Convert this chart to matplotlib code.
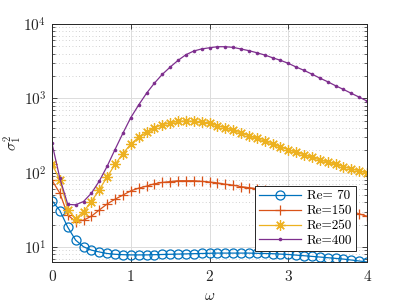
import numpy as np
import matplotlib
matplotlib.use("Agg")
import matplotlib.pyplot as plt
from matplotlib.ticker import FixedLocator, FuncFormatter, LogLocator, NullFormatter

plt.rcParams['mathtext.fontset'] = 'cm'
plt.rcParams['axes.unicode_minus'] = False

omega = [round(0.1 * i, 1) for i in range(41)]

re70 = [42, 31, 18.5, 12.4, 10.1, 9.1, 8.6, 8.2, 8.0, 7.9,
        7.85, 7.85, 7.85, 7.9, 7.95, 8.0, 8.05, 8.1, 8.15, 8.2,
        8.25, 8.3, 8.3, 8.3, 8.3, 8.3, 8.25, 8.2, 8.15, 8.05,
        7.95, 7.8, 7.65, 7.5, 7.35, 7.2, 7.05, 6.9, 6.7, 6.5, 6.3]
re150 = [79, 53, 27, 22, 23, 26, 31.5, 38, 44, 50,
         57, 62, 66, 71, 74, 76, 78, 78, 78, 76.5,
         75, 73, 70, 68, 65, 63, 61, 58, 55, 52,
         49, 46, 43.5, 41, 38.5, 36, 34, 32, 30.5, 28, 26]
re250 = [131, 80, 32, 24, 30, 41, 59, 88, 129, 180,
         243, 299, 349, 403, 442, 470, 490, 495, 490, 481,
         461, 429, 403, 371, 342, 314, 290, 265, 243, 222,
         204, 188, 174, 161, 149, 139, 130, 121, 113, 106, 99]
re400 = [248, 84, 37.5, 37, 41, 53, 77, 122, 205, 339,
         550, 813, 1170, 1600, 2100, 2630, 3240, 3860, 4330, 4620,
         4790, 4950, 4950, 4850, 4610, 4380, 4110, 3830, 3520, 3250,
         2960, 2640, 2380, 2120, 1875, 1675, 1480, 1320, 1170, 1040, 920]

labels = ["Re= 70", "Re=150", "Re=250", "Re=400"]
xticks = [0, 1, 2, 3, 4]

fig = plt.figure(figsize=(4.07, 3.06), dpi=100)
ax = fig.add_axes([52/407, 1-262/306, (367-52)/407, (262-24)/306])

lw = 0.9
ax.plot(omega, re70, color='#0072BD', lw=lw, marker='o', ms=6.5, mfc='none', mew=0.9, label=labels[0])
ax.plot(omega, re150, color='#D95319', lw=lw, marker='+', ms=7, mew=0.9, label=labels[1])
ax.plot(omega, re250, color='#EDB120', lw=lw, marker=(8, 2, 0), ms=7.5, mew=0.9, label=labels[2])
ax.plot(omega, re400, color='#7E2F8E', lw=lw, marker='o', ms=2.6, mfc='#7E2F8E', mew=0, label=labels[3])

ax.set_yscale('log')
ax.set_xlim(0, 4)
ax.set_ylim(6.3, 1e4)

ax.xaxis.set_major_locator(FixedLocator(xticks))
ax.xaxis.set_major_formatter(FuncFormatter(lambda v, p: f"{int(v)}"))
ax.yaxis.set_major_locator(LogLocator(base=10, numticks=10))
ax.yaxis.set_minor_locator(LogLocator(base=10, subs=np.arange(2, 10), numticks=20))
ax.yaxis.set_minor_formatter(NullFormatter())
ax.yaxis.set_major_formatter(FuncFormatter(lambda v, p: r"$10^{%d}$" % round(np.log10(v))))

for lab in ax.get_xticklabels():
    lab.set_fontfamily('cmr10')

ax.tick_params(which='both', direction='in', top=True, right=True, colors='#262626', labelsize=11)
ax.tick_params(which='major', length=3.5, width=0.6)
ax.tick_params(which='minor', length=2, width=0.5)
ax.tick_params(axis='x', which='major', pad=6)
ax.tick_params(axis='y', which='major', pad=4)
for s in ax.spines.values():
    s.set_color('#262626')
    s.set_linewidth(0.7)

ax.grid(True, which='major', color='#dcdcdc', lw=0.7, ls='-')
ax.grid(True, which='minor', axis='y', color='#c4c4c4', lw=0.6, ls=(0, (1, 3)))
ax.set_axisbelow(True)

ax.set_xlabel(r"$\omega$", fontsize=11, color='#262626', labelpad=3)
ax.set_ylabel(r"$\sigma_1^2$", fontsize=11, color='#262626')
ax.yaxis.set_label_coords(-0.088, 0.5)

leg = ax.legend(loc='lower right', bbox_to_anchor=(0.965, 0.046), borderaxespad=0,
                fancybox=False, edgecolor='#262626', framealpha=1,
                prop={'family': 'cmr10', 'size': 9.5}, handlelength=3.2,
                labelspacing=0.2, borderpad=0.3, handletextpad=0.4)
leg.get_frame().set_linewidth(0.7)

fig.savefig("out.png", dpi=100)
